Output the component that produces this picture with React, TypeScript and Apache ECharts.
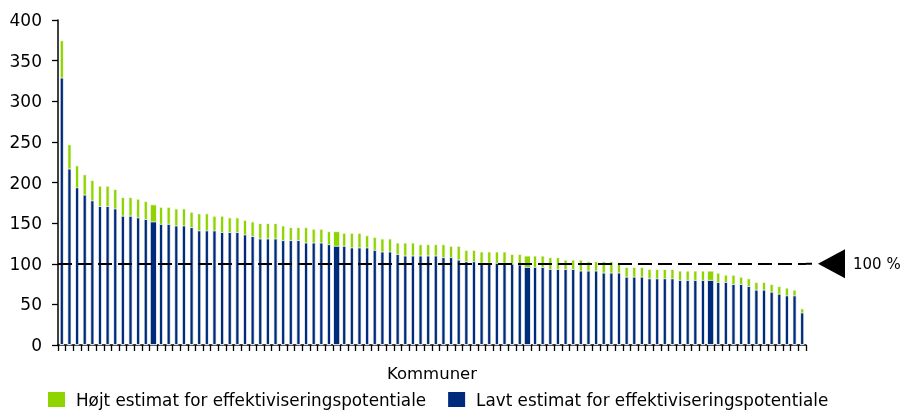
import React, { useEffect, useRef } from "react";
import * as echarts from "echarts";

const HIGH = "Højt estimat for effektiviseringspotentiale";
const LOW = "Lavt estimat for effektiviseringspotentiale";

const highValues = [
  375, 247, 221, 210, 203, 196, 196, 192, 182, 182,
  180, 177, 173, 170, 170, 168, 168, 164, 162, 162,
  159, 159, 157, 157, 154, 152, 150, 150, 150, 147,
  145, 145, 145, 143, 143, 140, 140, 138, 138, 138,
  135, 133, 131, 131, 126, 126, 126, 124, 124, 124,
  124, 122, 122, 117, 117, 115, 115, 115, 115, 112,
  112, 110, 110, 110, 108, 108, 105, 105, 105, 103,
  103, 103, 103, 100.5, 96, 96, 96, 93.5, 93.5, 93.5,
  93.5, 91.5, 91.5, 91.5, 91.5, 91.5, 89, 86.5, 86.5, 84,
  82, 77.5, 77.5, 75, 72.5, 70.5, 68, 45,
];

const lowValues = [
  329, 217, 194, 185, 178, 171, 171, 168, 159, 159,
  157, 155, 152, 149, 149, 147, 147, 145, 141, 141,
  141, 139, 139, 139, 136, 134, 131, 131, 131, 129,
  129, 129, 126, 126, 126, 124, 122, 122, 120, 120,
  120, 117, 115, 115, 112, 110, 110, 110, 110, 110,
  108, 108, 105, 103, 103, 101, 101, 101, 101, 100,
  99, 96, 96, 96, 93.5, 93.5, 93.5, 93.5, 91.5, 91.5,
  91.5, 89, 89, 89, 84, 84, 84, 82, 82, 82,
  82, 80, 80, 80, 80, 80, 77.5, 77.5, 75, 75,
  72.5, 68, 68, 65.5, 63, 61, 61, 40,
];

// Highlighted municipalities drawn with wider bars
const wideBars = [12, 36, 61, 85];

const categories = highValues.map((_, i) => `Kommune ${i + 1}`);

const REFERENCE_LEVEL = 100;
const REFERENCE_LABEL = "100 %";

const GREEN = "#8fd400";
const BLUE = "#002a7c";
const FONT = "DejaVu Sans";

export default function App() {
  const ref = useRef<HTMLDivElement>(null);

  useEffect(() => {
    if (!ref.current) return;
    const chart = echarts.init(ref.current, undefined, { renderer: "svg" });

    const narrow = (arr: number[]) =>
      arr.map((v, i) => (wideBars.includes(i) ? "-" : v));
    const wide = (arr: number[]) =>
      arr.map((v, i) => (wideBars.includes(i) ? v : "-"));

    const barStyle = (color: string) => ({
      color,
      borderColor: "#ffffff",
      borderWidth: 0.8,
    });

    chart.setOption({
      animation: false,
      textStyle: { fontFamily: FONT },
      grid: { left: 58, right: 98, top: 20, bottom: 65, containLabel: false },
      legend: {
        data: [HIGH, LOW],
        left: 46,
        top: 390,
        itemWidth: 19,
        itemHeight: 17,
        itemGap: 20,
        padding: 0,
        icon: "rect",
        textStyle: {
          fontSize: 16.8,
          color: "#000",
          fontFamily: FONT,
          lineHeight: 18,
          padding: [0, 0, 0, 5],
        },
      },
      xAxis: [
        {
          type: "category",
          data: categories,
          name: "Kommuner",
          nameLocation: "middle",
          nameGap: 20,
          nameTextStyle: { fontSize: 16.5, color: "#000", fontFamily: FONT },
          axisLine: { lineStyle: { color: "#000", width: 1.5 } },
          axisTick: { show: true, interval: 0, length: 6, lineStyle: { color: "#000", width: 1.3 } },
          axisLabel: { show: false },
          splitLine: { show: false },
        },
        {
          type: "category",
          data: categories,
          show: false,
        },
      ],
      yAxis: {
        type: "value",
        min: 0,
        max: 400,
        interval: 50,
        axisLine: { show: true, lineStyle: { color: "#000", width: 1.5 } },
        axisTick: { show: true, length: 6, lineStyle: { color: "#000", width: 1.3 } },
        axisLabel: { fontSize: 17, color: "#000", margin: 16, fontFamily: FONT },
        splitLine: { show: false },
      },
      series: [
        {
          name: HIGH,
          type: "bar",
          xAxisIndex: 0,
          barWidth: 4,
          barGap: "-100%",
          data: narrow(highValues),
          itemStyle: barStyle(GREEN),
        },
        {
          name: LOW,
          type: "bar",
          xAxisIndex: 0,
          barWidth: 4,
          barGap: "-100%",
          data: narrow(lowValues),
          itemStyle: barStyle(BLUE),
        },
        {
          name: HIGH,
          type: "bar",
          xAxisIndex: 1,
          barWidth: 7,
          barGap: "-100%",
          data: wide(highValues),
          itemStyle: barStyle(GREEN),
        },
        {
          name: LOW,
          type: "bar",
          xAxisIndex: 1,
          barWidth: 7,
          barGap: "-100%",
          data: wide(lowValues),
          itemStyle: barStyle(BLUE),
          markLine: {
            silent: true,
            symbol: "none",
            label: { show: false },
            lineStyle: { color: "#000", width: 2, type: [14, 6] },
            data: [{ yAxis: REFERENCE_LEVEL }],
          },
        },
      ],
    });

    const y100 = chart.convertToPixel({ yAxisIndex: 0 }, REFERENCE_LEVEL) as number;
    chart.setOption({
      graphic: [
        {
          type: "line",
          shape: { x1: 806, y1: y100, x2: 812, y2: y100 },
          style: { stroke: "#000", lineWidth: 2 },
        },
        {
          type: "polygon",
          shape: { points: [[818, y100], [845, y100 - 14.5], [845, y100 + 14.5]] },
          style: { fill: "#000" },
        },
        {
          type: "text",
          x: 853,
          y: y100,
          style: {
            text: REFERENCE_LABEL,
            fontSize: 15,
            fontFamily: FONT,
            fill: "#000",
            verticalAlign: "middle",
            align: "left",
          },
        },
      ],
    });

    return () => chart.dispose();
  }, []);

  return (
    <div
      ref={ref}
      style={{ position: "fixed", left: 0, top: 0, width: 904, height: 410 }}
    />
  );
}
